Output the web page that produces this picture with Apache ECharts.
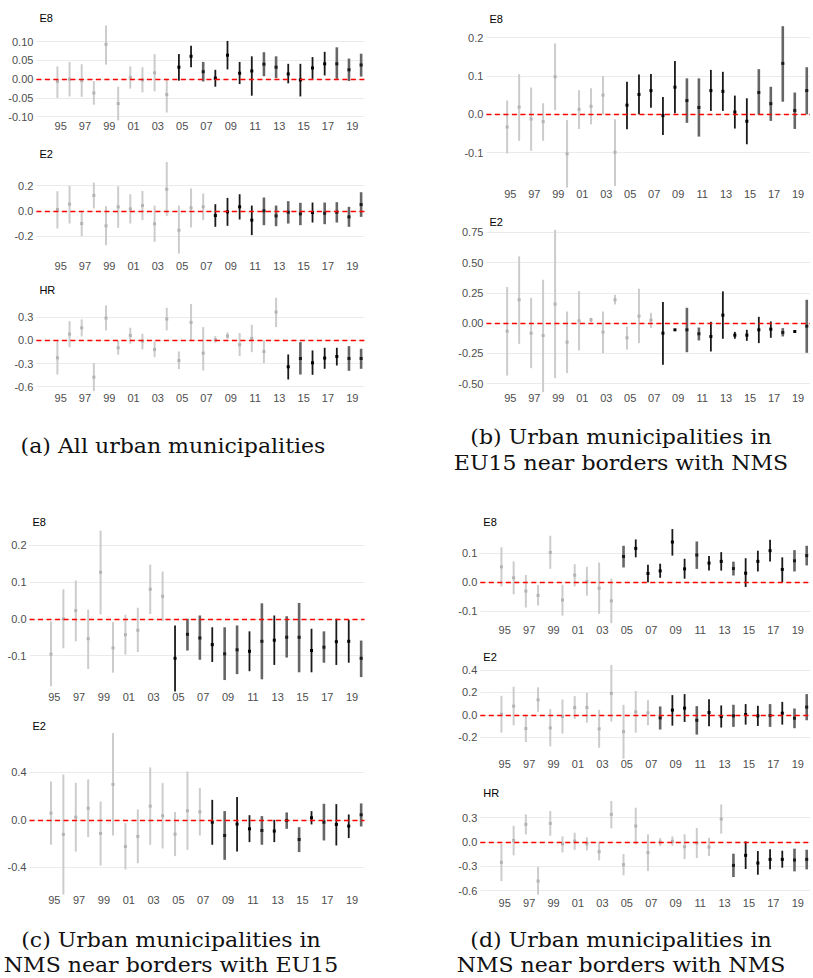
<!DOCTYPE html>
<html><head><meta charset="utf-8">
<script src="https://cdn.jsdelivr.net/npm/echarts@6/dist/echarts.min.js"></script>
<style>html,body{margin:0;padding:0;background:#fff}#c{width:813px;height:978px}</style>
</head><body><div id="c"></div>
<script>
// ---------- data ----------
const years = [1995,1996,1997,1998,1999,2000,2001,2002,2003,2004,2005,2006,2007,2008,2009,2010,2011,2012,2013,2014,2015,2016,2017,2018,2019,2020];
const xTickYears = [1995,1997,1999,2001,2003,2005,2007,2009,2011,2013,2015,2017,2019];
const xTickLabels = ['95','97','99','01','03','05','07','09','11','13','15','17','19'];

// (a) All urban municipalities
const aE8_hi  = [0.034,0.046,0.040,-0.005,0.143,-0.020,0.034,0.032,0.067,0.001,0.067,0.089,0.046,0.025,0.102,0.046,0.061,0.072,0.061,0.041,0.041,0.059,0.073,0.085,0.055,0.068];
const aE8_est = [-0.006,0.000,-0.004,-0.037,0.093,-0.065,0.005,-0.002,0.017,-0.041,0.032,0.061,0.020,0.003,0.064,0.016,0.022,0.040,0.032,0.014,-0.002,0.030,0.041,0.041,0.025,0.038];
const aE8_lo  = [-0.050,-0.046,-0.047,-0.068,0.039,-0.110,-0.025,-0.035,-0.032,-0.089,-0.004,0.032,-0.006,-0.020,0.026,-0.013,-0.044,0.008,0.003,-0.011,-0.046,0.001,0.010,0.001,-0.005,0.007];
const aE8_grp = ['l','l','l','l','l','l','l','l','l','l','k','k','g','k','k','k','k','g','g','k','k','k','k','g','g','g'];

const aE2_hi  = [0.156,0.199,0.000,0.225,0.037,0.196,0.132,0.159,0.042,0.389,0.042,0.177,0.138,0.053,0.103,0.132,0.042,0.106,0.042,0.077,0.064,0.066,0.066,0.069,0.032,0.148];
const aE2_est = [0.011,0.053,-0.101,0.122,-0.119,0.032,0.016,0.042,-0.103,0.172,-0.154,0.024,0.032,-0.037,-0.008,0.032,-0.074,0.000,-0.040,-0.011,-0.024,-0.013,-0.019,-0.011,-0.048,0.050];
const aE2_lo  = [-0.140,-0.101,-0.201,0.019,-0.273,-0.135,-0.101,-0.074,-0.246,-0.042,-0.340,-0.132,-0.074,-0.127,-0.119,-0.069,-0.193,-0.114,-0.122,-0.101,-0.114,-0.093,-0.106,-0.093,-0.127,-0.048];
const aE2_grp = ['l','l','l','l','l','l','l','l','l','l','l','l','l','k','k','k','k','g','g','g','g','k','g','g','g','g'];

const aHR_hi  = [0.000,0.251,0.273,-0.294,0.455,0.000,0.165,0.087,-0.013,0.424,-0.143,0.472,0.173,0.056,0.104,0.095,0.203,0.000,0.554,-0.182,-0.022,-0.130,-0.095,-0.095,-0.074,-0.108];
const aHR_est = [-0.225,0.082,0.164,-0.476,0.290,-0.095,0.065,-0.009,-0.117,0.277,-0.260,0.234,-0.165,0.009,0.056,-0.056,0.026,-0.143,0.368,-0.342,-0.234,-0.290,-0.229,-0.208,-0.234,-0.234];
const aHR_lo  = [-0.442,-0.087,0.052,-0.658,0.130,-0.186,-0.043,-0.117,-0.216,0.130,-0.372,0.000,-0.390,-0.030,0.022,-0.203,-0.152,-0.294,0.173,-0.506,-0.442,-0.446,-0.368,-0.325,-0.394,-0.368];
const aHR_grp = ['l','l','l','l','l','l','l','l','l','l','l','l','l','l','l','l','l','l','l','k','g','k','k','k','g','g'];

// (b) EU15 near borders with NMS
const bE8_hi  = [0.036,0.105,0.070,0.029,0.185,-0.015,0.063,0.068,0.100,-0.013,0.085,0.104,0.105,0.045,0.139,0.094,0.094,0.116,0.111,0.049,0.042,0.118,0.072,0.230,0.057,0.123];
const bE8_est = [-0.033,0.019,-0.012,-0.019,0.098,-0.103,0.013,0.021,0.050,-0.099,0.024,0.052,0.062,-0.003,0.071,0.036,0.018,0.062,0.060,0.006,-0.018,0.057,0.028,0.133,0.010,0.062];
const bE8_lo  = [-0.102,-0.069,-0.095,-0.069,0.011,-0.191,-0.038,-0.026,0.000,-0.187,-0.039,0.000,0.017,-0.054,0.003,-0.022,-0.058,0.009,0.009,-0.037,-0.078,0.000,-0.017,0.033,-0.038,0.000];
const bE8_grp = ['l','l','l','l','l','l','l','l','l','l','k','k','k','k','k','g','g','k','k','k','k','g','g','g','g','g'];

const bE2_hi  = [0.298,0.551,0.209,0.358,0.771,0.096,0.264,0.044,0.096,0.234,-0.028,0.284,0.085,0.174,-0.050,0.127,-0.036,0.011,0.262,-0.072,-0.055,0.052,0.014,-0.041,-0.064,0.193];
const bE2_est = [-0.066,0.193,-0.083,-0.102,0.157,-0.157,0.019,0.028,-0.074,0.193,-0.121,0.058,0.025,-0.083,-0.055,-0.055,-0.088,-0.110,0.066,-0.099,-0.099,-0.055,-0.050,-0.077,-0.069,-0.025];
const bE2_lo  = [-0.433,-0.171,-0.372,-0.570,-0.455,-0.413,-0.226,0.008,-0.248,0.154,-0.218,-0.165,-0.039,-0.344,-0.060,-0.240,-0.143,-0.234,-0.129,-0.129,-0.146,-0.165,-0.121,-0.110,-0.074,-0.245];
const bE2_grp = ['l','l','l','l','l','l','l','l','l','l','l','l','l','k','k','g','g','k','k','k','k','k','k','g','k','g'];

// (c) NMS near borders with EU15
const cE8_hi  = [-0.007,0.080,0.104,0.025,0.239,-0.009,0.011,0.030,0.147,0.128,-0.018,0.000,0.009,-0.023,-0.023,-0.018,-0.034,0.042,0.009,0.007,0.043,-0.027,-0.034,0.000,-0.003,-0.059];
const cE8_est = [-0.096,0.000,0.022,-0.054,0.126,-0.079,-0.043,-0.031,0.080,0.061,-0.107,-0.042,-0.052,-0.070,-0.095,-0.084,-0.088,-0.061,-0.058,-0.050,-0.050,-0.086,-0.077,-0.062,-0.061,-0.107];
const cE8_lo  = [-0.183,-0.080,-0.061,-0.136,0.012,-0.146,-0.097,-0.090,0.013,-0.006,-0.197,-0.086,-0.111,-0.117,-0.166,-0.150,-0.142,-0.164,-0.125,-0.105,-0.145,-0.145,-0.119,-0.125,-0.119,-0.158];
const cE8_grp = ['l','l','l','l','l','l','l','l','l','l','k','g','g','k','g','g','k','g','k','g','g','k','g','k','k','g'];

const cE2_hi  = [0.323,0.382,0.312,0.340,0.154,0.730,-0.028,0.087,0.441,0.309,0.065,0.407,0.267,0.168,0.073,0.191,0.039,0.031,0.000,0.062,-0.062,0.073,0.135,0.132,0.045,0.138];
const cE2_est = [0.056,-0.123,0.022,0.098,-0.115,0.298,-0.225,-0.140,0.115,0.034,-0.121,0.076,0.067,-0.020,-0.132,-0.036,-0.076,-0.090,-0.095,-0.006,-0.166,0.017,-0.020,-0.039,-0.053,0.042];
const cE2_lo  = [-0.210,-0.629,-0.267,-0.146,-0.385,-0.132,-0.418,-0.365,-0.210,-0.241,-0.306,-0.253,-0.132,-0.210,-0.337,-0.267,-0.188,-0.210,-0.188,-0.076,-0.272,-0.039,-0.174,-0.216,-0.154,-0.056];
const cE2_grp = ['l','l','l','l','l','l','l','l','l','l','l','l','l','k','g','k','k','g','k','g','g','k','g','k','k','g'];

// (d) NMS near borders with NMS
const dE8_hi  = [0.121,0.072,0.025,-0.010,0.161,-0.009,0.062,0.053,0.068,0.012,0.126,0.148,0.060,0.064,0.184,0.081,0.141,0.091,0.104,0.071,0.083,0.109,0.147,0.086,0.111,0.126];
const dE8_est = [0.053,0.015,-0.031,-0.046,0.103,-0.062,0.024,0.002,-0.021,-0.065,0.089,0.117,0.030,0.039,0.139,0.046,0.094,0.066,0.072,0.047,0.031,0.072,0.109,0.044,0.074,0.092];
const dE8_lo  = [-0.015,-0.042,-0.088,-0.081,0.046,-0.116,-0.015,-0.047,-0.110,-0.142,0.051,0.086,0.000,0.015,0.092,0.012,0.046,0.040,0.040,0.023,-0.017,0.037,0.072,0.000,0.037,0.058];
const dE8_grp = ['l','l','l','l','l','l','l','l','l','l','g','k','k','k','k','k','g','k','k','g','k','k','k','k','g','g'];

const dE2_hi  = [0.170,0.251,-0.003,0.245,0.051,0.137,0.167,0.197,0.045,0.445,0.090,0.212,0.131,0.075,0.176,0.185,0.078,0.140,0.084,0.090,0.096,0.081,0.096,0.116,0.057,0.185];
const dE2_est = [0.006,0.078,-0.122,0.134,-0.116,-0.015,0.066,0.066,-0.125,0.191,-0.149,0.027,0.018,-0.027,0.042,0.060,-0.048,0.021,-0.015,-0.009,0.003,-0.009,-0.006,0.015,-0.030,0.069];
const dE2_lo  = [-0.158,-0.093,-0.242,0.027,-0.281,-0.167,-0.036,-0.069,-0.293,-0.060,-0.391,-0.158,-0.093,-0.131,-0.096,-0.063,-0.176,-0.101,-0.113,-0.107,-0.087,-0.099,-0.107,-0.087,-0.119,-0.048];
const dE2_grp = ['l','l','l','l','l','l','l','l','l','l','l','l','l','g','k','k','g','k','k','g','k','k','g','k','g','g'];

const dHR_hi  = [-0.021,0.201,0.341,-0.308,0.382,0.070,0.115,0.058,-0.008,0.506,-0.148,0.423,0.095,0.049,0.070,0.095,0.173,0.053,0.464,-0.144,0.008,-0.111,-0.090,-0.107,-0.082,-0.095];
const dHR_est = [-0.251,0.021,0.218,-0.481,0.230,-0.025,0.012,-0.021,-0.119,0.341,-0.279,0.197,-0.132,0.000,0.008,-0.058,-0.012,-0.062,0.284,-0.288,-0.164,-0.259,-0.214,-0.214,-0.222,-0.214];
const dHR_lo  = [-0.481,-0.164,0.095,-0.649,0.078,-0.127,-0.095,-0.103,-0.226,0.169,-0.411,-0.029,-0.358,-0.049,-0.045,-0.210,-0.197,-0.173,0.103,-0.432,-0.333,-0.403,-0.337,-0.316,-0.362,-0.337];
const dHR_grp = ['l','l','l','l','l','l','l','l','l','l','l','l','l','l','l','l','l','l','l','g','k','k','k','k','g','g'];

const captions = [
  {lines:['(a) All urban municipalities'], x:173, y:[446]},
  {lines:['(b) Urban municipalities in','EU15 near borders with NMS'], x:621, y:[437,463]},
  {lines:['(c) Urban municipalities in','NMS near borders with EU15'], x:171, y:[940,965]},
  {lines:['(d) Urban municipalities in','NMS near borders with NMS'], x:621, y:[940,965]}
];

// ---------- layout / style ----------
const subplots = [
  {title:'E8', hi:aE8_hi, est:aE8_est, lo:aE8_lo, grp:aE8_grp, left:36.4, width:328, top:41.7, height:75,   min:-0.1, max:0.1, step:0.05, dec:2, xm:4,  ty:19},
  {title:'E2', hi:aE2_hi, est:aE2_est, lo:aE2_lo, grp:aE2_grp, left:36.4, width:328, top:185.7,height:50.3, min:-0.2, max:0.2, step:0.2,  dec:1, xm:24, ty:155},
  {title:'HR', hi:aHR_hi, est:aHR_est, lo:aHR_lo, grp:aHR_grp, left:36.4, width:328, top:317.3,height:69.4, min:-0.6, max:0.3, step:0.3,  dec:1, xm:5.8,ty:290.7},
  {title:'E8', hi:bE8_hi, est:bE8_est, lo:bE8_lo, grp:bE8_grp, left:486.4,width:327, top:37.7, height:115,  min:-0.1, max:0.2, step:0.1,  dec:1, xm:35.3,ty:20},
  {title:'E2', hi:bE2_hi, est:bE2_est, lo:bE2_lo, grp:bE2_grp, left:486.4,width:327, top:232.3,height:151.4,min:-0.5, max:0.75,step:0.25, dec:2, xm:8.8,ty:222.7},
  {title:'E8', hi:cE8_hi, est:cE8_est, lo:cE8_lo, grp:cE8_grp, left:29.5, width:335, top:545,  height:110.7,min:-0.1, max:0.2, step:0.1,  dec:1, xm:35.6,ty:523.3},
  {title:'E2', hi:cE2_hi, est:cE2_est, lo:cE2_lo, grp:cE2_grp, left:29.5, width:335, top:772.3,height:95,   min:-0.4, max:0.4, step:0.4,  dec:1, xm:27, ty:726.7},
  {title:'E8', hi:dE8_hi, est:dE8_est, lo:dE8_lo, grp:dE8_grp, left:480.3,width:333, top:553.3,height:57.7, min:-0.1, max:0.1, step:0.1,  dec:1, xm:13, ty:523.3},
  {title:'E2', hi:dE2_hi, est:dE2_est, lo:dE2_lo, grp:dE2_grp, left:480.3,width:333, top:670,  height:67.3, min:-0.2, max:0.4, step:0.2,  dec:1, xm:20.7,ty:658.3},
  {title:'HR', hi:dHR_hi, est:dHR_est, lo:dHR_lo, grp:dHR_grp, left:480.3,width:333, top:817.7,height:73,   min:-0.6, max:0.3, step:0.3,  dec:1, xm:6.3,ty:794}
];

const barShift = -0.27;
const grpCode = {l:0, k:1, g:2};
const grpStyle = [
  {stroke:'#cccccc', w:2.0, pt:'#b3b3b3'},
  {stroke:'#1a1a1a', w:1.8, pt:'#000000'},
  {stroke:'#666666', w:2.6, pt:'#1a1a1a'}
];
const sans = 'Liberation Sans, Arial, sans-serif';
const serif = 'DejaVu Serif, Liberation Serif, serif';

function xLabel(v){
  const i = xTickYears.indexOf(Math.round(v));
  return (i >= 0 && Math.abs(v - Math.round(v)) < 1e-6) ? xTickLabels[i] : '';
}

function renderItem(params, api){
  const x = api.value(0);
  const pLo = api.coord([x, api.value(1)]);
  const pE  = api.coord([x, api.value(2)]);
  const pHi = api.coord([x, api.value(3)]);
  const st = grpStyle[api.value(4)];
  return {type:'group', children:[
    {type:'line', shape:{x1:pLo[0], y1:pLo[1], x2:pHi[0], y2:pHi[1]}, style:{stroke:st.stroke, lineWidth:st.w}},
    {type:'rect', shape:{x:pE[0]-1.5, y:pE[1]-1.5, width:3, height:3}, style:{fill:st.pt}}
  ]};
}

const grids = [], xAxes = [], yAxes = [], series = [], graphics = [];
subplots.forEach((s, i) => {
  grids.push({left:s.left, top:s.top, width:s.width, height:s.height, containLabel:false});
  xAxes.push({gridIndex:i, type:'value', min:1993, max:2020, interval:1,
    axisLine:{show:false}, axisTick:{show:false}, splitLine:{show:false},
    axisLabel:{margin:s.xm, fontSize:11, color:'#4d4d4d', fontFamily:sans, formatter:xLabel, showMinLabel:true, showMaxLabel:true}});
  yAxes.push({gridIndex:i, type:'value', min:s.min, max:s.max, interval:s.step,
    axisLine:{show:false}, axisTick:{show:false},
    splitLine:{show:true, lineStyle:{color:'#ebebeb', width:1}},
    axisLabel:{margin:3, fontSize:11, color:'#4d4d4d', fontFamily:sans,
      formatter: v => (Math.abs(v) < 1e-9 ? 0 : v).toFixed(s.dec)}});
  series.push({type:'custom', xAxisIndex:i, yAxisIndex:i, renderItem, clip:false, silent:true,
    encode:{x:0, y:[1,2,3]},
    data: years.map((yr, k) => [yr + barShift, s.lo[k], s.est[k], s.hi[k], grpCode[s.grp[k]]]),
    markLine:{silent:true, symbol:'none', label:{show:false}, animation:false, z:10,
      lineStyle:{color:'#ff0000', type:[5,3.5], width:1.3}, data:[{yAxis:0}]}});
  graphics.push({type:'text', left:s.left + 3, top:s.ty - 6.5,
    style:{text:s.title, fontSize:11, fontFamily:sans, fill:'#000'}});
});
captions.forEach(c => {
  c.lines.forEach((ln, j) => {
    graphics.push({type:'text', x:c.x, y:c.y[j], scaleX:1.05,
      style:{text:ln, fontSize:21, fontFamily:serif, fill:'#111', align:'center', verticalAlign:'middle'}});
  });
});

const chart = echarts.init(document.getElementById('c'), null, {renderer:'svg', width:813, height:978});
chart.setOption({animation:false, backgroundColor:'#fff', grid:grids, xAxis:xAxes, yAxis:yAxes, series, graphic:graphics});
</script>
</body></html>
